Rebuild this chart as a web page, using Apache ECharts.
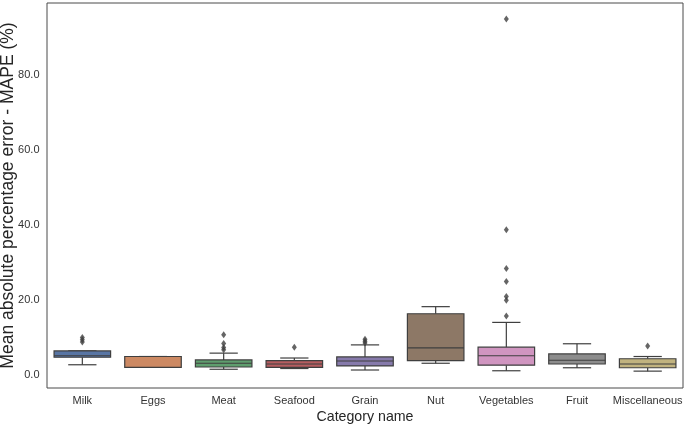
<!DOCTYPE html>
<html>
<head>
<meta charset="utf-8">
<script src="https://cdn.jsdelivr.net/npm/echarts@6/dist/echarts.min.js"></script>
<style>html,body{margin:0;padding:0;background:#fff}#c{width:685px;height:428px}</style>
</head>
<body>
<div id="c"></div>
<script>
const categories = ['Milk','Eggs','Meat','Seafood','Grain','Nut','Vegetables','Fruit','Miscellaneous'];
const whiskerLow  = [2.7, 2.0, 1.5, 1.7, 1.3, 3.1, 1.1, 1.9, 1.0];
const q1          = [4.7, 2.0, 2.1, 2.0, 2.4, 3.8, 2.6, 2.9, 1.9];
const median      = [5.1, 4.9, 3.1, 2.9, 3.7, 7.2, 5.1, 3.9, 2.9];
const q3          = [6.4, 4.9, 4.0, 3.8, 4.8, 16.3, 7.4, 5.6, 4.3];
const whiskerHigh = [6.4, 4.9, 5.8, 4.5, 8.0, 18.2, 14.0, 8.3, 4.9];
const outliers = [
  [0, 8.8], [0, 9.4], [0, 10.0],
  [2, 6.7], [2, 7.3], [2, 8.4], [2, 10.7],
  [3, 7.4],
  [4, 8.5], [4, 9.0], [4, 9.5],
  [6, 15.7], [6, 19.9], [6, 20.9], [6, 24.9], [6, 28.4], [6, 38.7], [6, 94.9],
  [8, 7.7]
];
const colors = ['#5875A4','#CC8963','#5F9E6E','#B55D60','#867AAB','#8D7866','#D095C0','#8C8C8C','#C1B37F'];
const yTicks = [0, 20, 40, 60, 80];

const boxData = categories.map((c, i) => [i, whiskerLow[i], q1[i], median[i], q3[i], whiskerHigh[i]]);
const lineColor = '#3f3f3f';
const font = 'Liberation Sans, Arial, sans-serif';

const chart = echarts.init(document.getElementById('c'));
chart.setOption({
  animation: false,
  grid: { left: 47, right: 2, top: 3, bottom: 40, containLabel: false, outerBoundsMode: 'none',
    show: true, borderColor: '#4a4a4a', borderWidth: 1, backgroundColor: 'transparent' },
  xAxis: {
    type: 'category', data: categories,
    name: 'Category name', nameLocation: 'middle', nameGap: 22, nameMoveOverlap: false,
    nameTextStyle: { fontSize: 14.2, color: '#262626', fontFamily: font },
    axisLine: { show: false }, axisTick: { show: false },
    axisLabel: { interval: 0, fontSize: 11, color: '#333', margin: 7, fontFamily: font },
    splitLine: { show: false }
  },
  yAxis: {
    type: 'value', min: -3.5, max: 99.2,
    name: 'Mean absolute percentage error - MAPE (%)', nameLocation: 'middle', nameGap: 30,
    nameMoveOverlap: false,
    nameTextStyle: { fontSize: 17.5, color: '#262626', fontFamily: font },
    axisLine: { show: false }, axisTick: { show: false },
    axisLabel: { fontSize: 11, color: '#333', margin: 7.5, customValues: yTicks,
      formatter: v => v.toFixed(1), fontFamily: font },
    splitLine: { show: false }
  },
  series: [
    {
      type: 'custom',
      data: boxData,
      renderItem: function (params, api) {
        const idx = api.value(0);
        const band = api.size([1, 0])[0];
        const w = band * 0.8;
        const cap = w * 0.5;
        const pLow = api.coord([idx, api.value(1)]);
        const pQ1 = api.coord([idx, api.value(2)]);
        const pMed = api.coord([idx, api.value(3)]);
        const pQ3 = api.coord([idx, api.value(4)]);
        const pHigh = api.coord([idx, api.value(5)]);
        const x = pQ1[0];
        const ls = { stroke: lineColor, lineWidth: 1.2 };
        return {
          type: 'group',
          children: [
            { type: 'line', shape: { x1: x, y1: pQ1[1], x2: x, y2: pLow[1] }, style: ls },
            { type: 'line', shape: { x1: x, y1: pQ3[1], x2: x, y2: pHigh[1] }, style: ls },
            { type: 'line', shape: { x1: x - cap / 2, y1: pLow[1], x2: x + cap / 2, y2: pLow[1] }, style: ls },
            { type: 'line', shape: { x1: x - cap / 2, y1: pHigh[1], x2: x + cap / 2, y2: pHigh[1] }, style: ls },
            { type: 'rect', shape: { x: x - w / 2, y: pQ3[1], width: w, height: pQ1[1] - pQ3[1] },
              style: { fill: colors[idx], stroke: lineColor, lineWidth: 1.2 } },
            { type: 'line', shape: { x1: x - w / 2, y1: pMed[1], x2: x + w / 2, y2: pMed[1] }, style: ls }
          ]
        };
      }
    },
    {
      type: 'scatter',
      data: outliers,
      symbol: 'diamond',
      symbolSize: [5, 7],
      itemStyle: { color: lineColor }
    }
  ]
});
</script>
</body>
</html>
